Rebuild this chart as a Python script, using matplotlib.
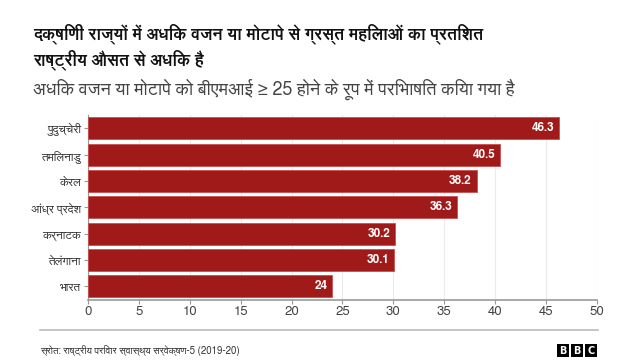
import matplotlib
matplotlib.use("Agg")
import matplotlib.pyplot as plt
from matplotlib.patches import Rectangle
from matplotlib import font_manager as fm

# Data
states = ["पुदुच्चेरी", "तमिलनाडु", "केरल", "आंध्र प्रदेश", "कर्नाटक", "तेलंगाना", "भारत"]
values = [46.3, 40.5, 38.2, 36.3, 30.2, 30.1, 24]
value_labels = ["46.3", "40.5", "38.2", "36.3", "30.2", "30.1", "24"]
xticks = [0, 5, 10, 15, 20, 25, 30, 35, 40, 45, 50]

title = "दक्षिणी राज्यों में अधिक वजन या मोटापे से ग्रस्त महिलाओं का प्रतिशत\nराष्ट्रीय औसत से अधिक है"
subtitle = "अधिक वजन या मोटापे को बीएमआई ≥ 25 होने के रूप में परिभाषित किया गया है"
source = "स्रोत: राष्ट्रीय परिवार स्वास्थ्य सर्वेक्षण-5 (2019-20)"

# fonts with Devanagari coverage, if any are installed
dev = []
for f in fm.fontManager.ttflist:
    if any(k in f.name for k in ("Devanagari", "Lohit", "Mukta", "Hind", "FreeSans")):
        if f.name not in dev:
            dev.append(f.name)
fams = dev + ["Noto Sans", "DejaVu Sans"]
plt.rcParams["font.family"] = fams

fig = plt.figure(figsize=(6.4, 3.6), dpi=100)
ax = fig.add_axes([0.1375, 0.168, 0.795, 0.512])

bar_color = "#a01a1a"
y = list(range(len(states)))
ax.barh(y, values, height=0.84, color=bar_color, edgecolor="#c9504f", linewidth=0.6, zorder=3)
for yi, v, lab in zip(y, values, value_labels):
    ax.text(v - 0.5, yi, lab, ha="right", va="center", color="white",
            fontsize=8.5, fontweight="bold", zorder=4)

ax.set_xlim(0, 50)
ax.set_ylim(len(states) - 0.5, -0.5)
ax.set_yticks(y)
ax.set_yticklabels(states, fontsize=8.5, color="#333333")
ax.set_xticks(xticks)
ax.set_xticklabels([str(t) for t in xticks], fontsize=9.5, color="#444444")
ax.grid(axis="x", color="#ebebeb", linewidth=0.8, zorder=0)
for s in ["top", "right"]:
    ax.spines[s].set_visible(False)
ax.spines["left"].set_color("#999999")
ax.spines["bottom"].set_color("#999999")
ax.spines["bottom"].set_linewidth(1.2)
ax.tick_params(axis="both", length=3, color="#999999", pad=2)

fig.text(33/640, 1 - 23/360, title, fontsize=12, fontweight="bold", va="top", ha="left",
         color="#111111", linespacing=1.35)
fig.text(33/640, 1 - 79/360, subtitle, fontsize=13, va="top", ha="left", color="#444444")

fig.add_artist(plt.Line2D([40/640, 598/640], [1 - 330/360, 1 - 330/360],
                          color="#bbbbbb", linewidth=1.2, transform=fig.transFigure))
fig.text(40/640, 1 - 350/360, source, fontsize=7, va="center", ha="left", color="#333333")

for i, ch in enumerate("BBC"):
    x0 = 557 + i * 14
    fig.add_artist(Rectangle((x0/640, 1 - 357/360), 12/640, 13/360, transform=fig.transFigure,
                             facecolor="black", edgecolor="none"))
    fig.text((x0 + 6)/640, 1 - 350.5/360, ch, fontsize=7, fontweight="bold", color="white",
             ha="center", va="center", family="DejaVu Sans")

fig.savefig("out.png", dpi=100)
